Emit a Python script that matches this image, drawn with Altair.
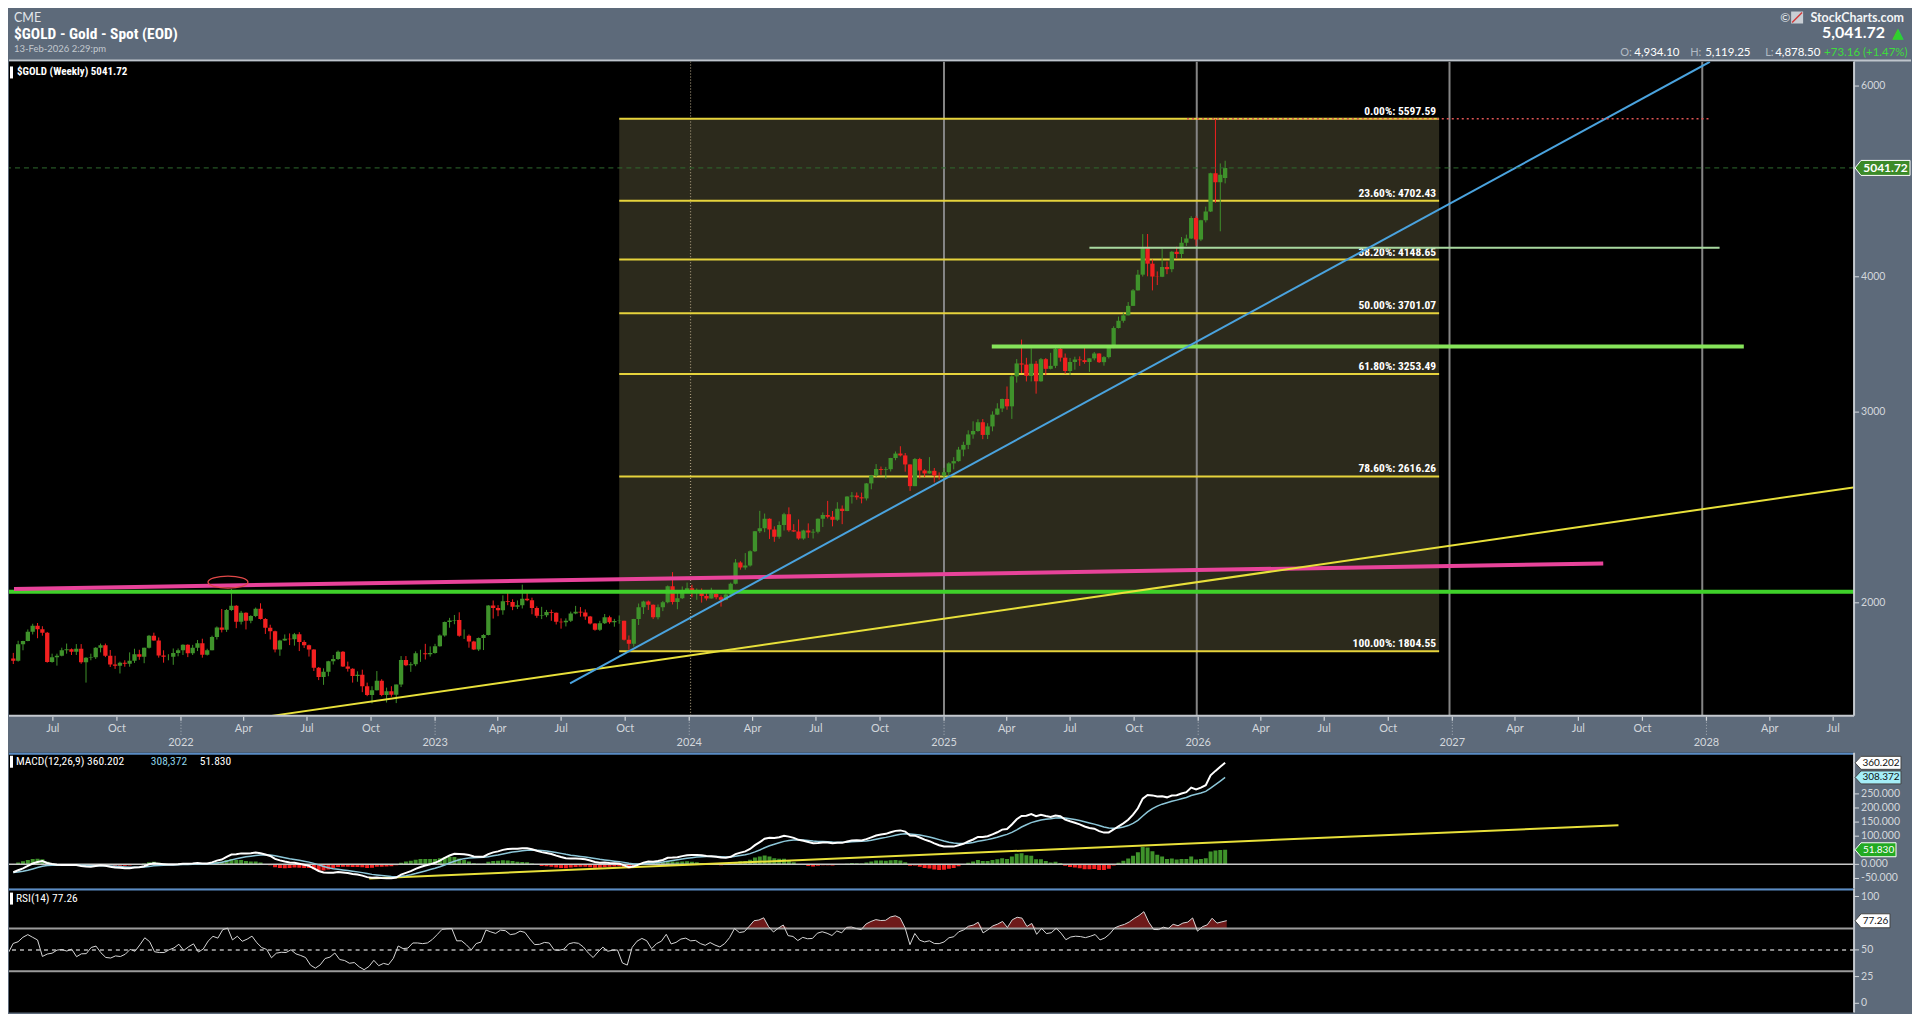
import altair as alt
import pandas as pd
import numpy as np

# ---------------- data (weekly spot gold) ----------------
# closes before the visible window, only used to warm up MACD / RSI
warmup_closes = [1775, 1798, 1810, 1902, 1975, 2035, 1944, 1940, 1964, 1933, 1940, 1950, 1861,
                 1900, 1930, 1899, 1902, 1879, 1951, 1889, 1871, 1788, 1839, 1839, 1881, 1877,
                 1895, 1849, 1828, 1856, 1848, 1814, 1824, 1784, 1734, 1700, 1727, 1745, 1733,
                 1729, 1744, 1777, 1777]

closes = [
    # 2021
    1768, 1831, 1844, 1881, 1905, 1891, 1877, 1764, 1781, 1787, 1808, 1812, 1802, 1814, 1763, 1780,
    1781, 1818, 1827, 1787, 1754, 1750, 1761, 1757, 1768, 1793, 1783, 1818, 1865, 1846, 1788, 1783,
    1783, 1798, 1808, 1829,
    # 2022
    1797, 1818, 1835, 1791, 1808, 1860, 1898, 1889, 1970, 1988, 1921, 1958, 1925, 1945, 1975, 1932,
    1897, 1883, 1811, 1846, 1853, 1851, 1871, 1840, 1827, 1811, 1742, 1708, 1727, 1766, 1775, 1802,
    1747, 1738, 1712, 1716, 1675, 1644, 1661, 1695, 1644, 1657, 1645, 1681, 1771, 1751, 1755, 1797,
    1797, 1793, 1798, 1824,
    # 2023
    1866, 1920, 1926, 1928, 1865, 1865, 1842, 1811, 1856, 1868, 1989, 1978, 1969, 2007, 2004, 1983,
    1990, 2017, 2011, 1978, 1946, 1948, 1961, 1958, 1921, 1919, 1925, 1955, 1962, 1959, 1943, 1914,
    1889, 1915, 1940, 1919, 1924, 1925, 1849, 1833, 1932, 1981, 2006, 1992, 1940, 1981, 2002, 2072,
    2004, 2019, 2053, 2063,
    # 2024
    2045, 2049, 2029, 2018, 2039, 2024, 2013, 2036, 2083, 2179, 2156, 2165, 2232, 2329, 2344, 2391,
    2337, 2301, 2360, 2415, 2334, 2327, 2293, 2333, 2322, 2326, 2391, 2411, 2401, 2386, 2443, 2431,
    2507, 2512, 2503, 2497, 2578, 2622, 2658, 2653, 2657, 2721, 2747, 2736, 2684, 2563, 2715, 2650,
    2633, 2648, 2622, 2621,
    # 2025
    2640, 2690, 2703, 2770, 2798, 2861, 2882, 2936, 2858, 2910, 2984, 3023, 3085, 3037, 3237, 3327,
    3319, 3240, 3325, 3203, 3357, 3289, 3310, 3432, 3368, 3274, 3337, 3355, 3350, 3337, 3363, 3398,
    3336, 3372, 3448, 3587, 3643, 3685, 3760, 3886, 4018, 4251, 4113, 4002, 4000, 4084, 4065, 4218,
    4198, 4300, 4339, 4533,
    # 2026
    4330, 4510, 4595, 4985, 4890, 4968.56, 5041.72]

highs = [
    1798, 1845, 1845, 1890, 1913, 1916, 1903, 1880, 1795, 1795, 1818, 1834, 1815, 1832, 1832, 1782,
    1795, 1820, 1834, 1834, 1809, 1787, 1765, 1770, 1800, 1814, 1810, 1818, 1868, 1877, 1858, 1808,
    1793, 1815, 1815, 1831,
    1831, 1829, 1848, 1853, 1814, 1865, 1902, 1974, 1974, 2060, 1990, 1966, 1960, 1948, 1980, 1998,
    1936, 1909, 1885, 1849, 1870, 1874, 1876, 1879, 1847, 1830, 1812, 1745, 1740, 1768, 1790, 1807,
    1805, 1765, 1740, 1729, 1735, 1688, 1675, 1730, 1700, 1670, 1675, 1681, 1786, 1786, 1763, 1804,
    1810, 1833, 1823, 1833,
    1870, 1922, 1937, 1949, 1960, 1890, 1870, 1845, 1858, 1871, 1990, 2010, 1990, 2032, 2048, 2015,
    2010, 2079, 2048, 2022, 1985, 1983, 1970, 1971, 1959, 1935, 1935, 1963, 1987, 1982, 1972, 1945,
    1915, 1925, 1953, 1946, 1933, 1947, 1925, 1866, 1933, 1997, 2009, 2010, 1993, 1993, 2008, 2075,
    2135, 2048, 2071, 2088,
    2078, 2062, 2062, 2041, 2065, 2044, 2032, 2041, 2088, 2195, 2185, 2223, 2236, 2330, 2432, 2418,
    2393, 2353, 2378, 2422, 2450, 2364, 2388, 2336, 2368, 2340, 2393, 2424, 2484, 2431, 2477, 2460,
    2509, 2531, 2529, 2528, 2580, 2625, 2686, 2672, 2670, 2722, 2759, 2790, 2750, 2685, 2721, 2722,
    2657, 2726, 2664, 2639,
    2665, 2697, 2726, 2786, 2817, 2886, 2942, 2955, 2956, 2930, 3005, 3057, 3087, 3168, 3245, 3358,
    3500, 3367, 3435, 3345, 3366, 3365, 3403, 3446, 3452, 3398, 3366, 3375, 3377, 3439, 3363, 3409,
    3400, 3379, 3453, 3600, 3675, 3707, 3791, 3897, 4059, 4380, 4381, 4150, 4046, 4245, 4132, 4226,
    4264, 4353, 4375, 4550,
    4550, 4515, 4643, 4990, 5597.59, 5090, 5119.25]

lows = [
    1756, 1765, 1808, 1843, 1870, 1855, 1865, 1761, 1761, 1750, 1785, 1795, 1790, 1790, 1757, 1688,
    1770, 1775, 1800, 1782, 1745, 1738, 1721, 1746, 1746, 1760, 1772, 1759, 1815, 1845, 1780, 1761,
    1770, 1753, 1785, 1790,
    1782, 1790, 1805, 1780, 1788, 1808, 1850, 1878, 1880, 1966, 1895, 1910, 1890, 1915, 1940, 1930,
    1872, 1850, 1800, 1787, 1845, 1828, 1826, 1805, 1817, 1784, 1730, 1697, 1680, 1711, 1754, 1771,
    1745, 1728, 1688, 1691, 1654, 1640, 1615, 1660, 1640, 1618, 1638, 1616, 1672, 1748, 1727, 1748,
    1764, 1773, 1784, 1795,
    1822, 1861, 1897, 1911, 1861, 1852, 1818, 1809, 1805, 1809, 1866, 1934, 1944, 1950, 1990, 1969,
    1974, 1976, 2007, 1952, 1937, 1932, 1940, 1925, 1910, 1893, 1902, 1920, 1952, 1942, 1929, 1910,
    1885, 1884, 1912, 1913, 1901, 1913, 1846, 1810, 1822, 1908, 1953, 1970, 1932, 1931, 1965, 1998,
    1993, 1973, 2016, 2042,
    2024, 2013, 2001, 2010, 2018, 2015, 1984, 2011, 2024, 2080, 2146, 2146, 2160, 2228, 2320, 2324,
    2291, 2277, 2292, 2332, 2326, 2325, 2287, 2287, 2296, 2293, 2318, 2350, 2393, 2353, 2380, 2364,
    2430, 2470, 2490, 2471, 2486, 2546, 2614, 2625, 2603, 2644, 2708, 2730, 2643, 2537, 2563, 2605,
    2613, 2632, 2583, 2599,
    2596, 2614, 2656, 2700, 2731, 2773, 2835, 2877, 2832, 2833, 2880, 2981, 3000, 3015, 2957, 3194,
    3260, 3202, 3202, 3120, 3200, 3245, 3285, 3294, 3340, 3255, 3247, 3283, 3310, 3325, 3268, 3349,
    3330, 3311, 3362, 3436, 3584, 3628, 3685, 3759, 3884, 4002, 4004, 3886, 3930, 3997, 4022, 4039,
    4160, 4162, 4271, 4335,
    4274, 4315, 4490, 4590, 4682, 4406, 4878.50]

last_open = 4934.10
last_bar_date = "2026-02-11"

fib_levels = ["0.00%", "23.60%", "38.20%", "50.00%", "61.80%", "78.60%", "100.00%"]
fib_values = [5597.59, 4702.43, 4148.65, 3701.07, 3253.49, 2616.26, 1804.55]
fib_span = ["2023-09-20", "2026-12-17"]

year_lines = ["2025-01-01", "2026-01-01", "2027-01-01", "2028-01-01"]
dotted_year_line = ["2024-01-01"]

blue_dates = ["2023-07-11", "2028-01-12"]
blue_prices = [1685.6, 6318.0]
yellow_dates = ["2022-05-01", "2028-08-15"]
yellow_prices = [1571.0, 2561.0]
magenta_dates = ["2021-04-29", "2027-08-11"]
magenta_prices = [2060.0, 2174.0]
support_level = 2048.0
lime_span = ["2025-03-11", "2028-03-01"]
lime_level = 3449.0
pale_span = ["2025-07-30", "2028-01-26"]
pale_level = 4255.0
peak_span = ["2025-12-18", "2028-01-14"]
peak_level = 5597.59
last_price = 5041.72
circle_date = ["2022-03-04"]
circle_price = [2090.0]

macd_trend_dates = ["2022-09-24", "2027-09-02"]
macd_trend_values = [-50.0, 139.0]
macd_last = [360.202, 308.372, 51.830]
rsi_last = 77.26
rsi_bands = [70, 30]
rsi_mid = [50]

# tick labels
price_ticks = [2000, 3000, 4000, 6000]
price_tick_labels = ["2000", "3000", "4000", "6000"]
macd_ticks = [-50, 0, 100, 150, 200, 250]
macd_tick_labels = ["-50.000", "0.000", "100.000", "150.000", "200.000", "250.000"]
rsi_ticks = [0, 25, 50, 100]
rsi_tick_labels = ["0", "25", "50", "100"]
month_tick_dates = ["2021-07-01", "2021-10-01", "2022-04-01", "2022-07-01", "2022-10-01",
                    "2023-04-01", "2023-07-01", "2023-10-01", "2024-04-01", "2024-07-01",
                    "2024-10-01", "2025-04-01", "2025-07-01", "2025-10-01", "2026-04-01",
                    "2026-07-01", "2026-10-01", "2027-04-01", "2027-07-01", "2027-10-01",
                    "2028-04-01", "2028-07-01"]
month_tick_labels = ["Jul", "Oct", "Apr", "Jul", "Oct", "Apr", "Jul", "Oct", "Apr", "Jul", "Oct",
                     "Apr", "Jul", "Oct", "Apr", "Jul", "Oct", "Apr", "Jul", "Oct", "Apr", "Jul"]
year_tick_dates = ["2022-01-01", "2023-01-01", "2024-01-01", "2025-01-01", "2026-01-01",
                   "2027-01-01", "2028-01-01"]
year_tick_labels = ["2022", "2023", "2024", "2025", "2026", "2027", "2028"]

# ---------------- frames ----------------
N = len(closes)
dates = pd.date_range(end=last_bar_date, periods=N, freq="7D")
opens = [warmup_closes[-1]] + closes[:-1]
opens[-1] = last_open
price = pd.DataFrame({"date": dates, "open": opens, "high": highs, "low": lows, "close": closes})
price["dir"] = np.where(price["close"] >= price["open"], "up", "down")

allc = pd.Series(warmup_closes + closes, dtype=float)
ema12 = allc.ewm(span=12, adjust=False).mean()
ema26 = allc.ewm(span=26, adjust=False).mean()
macd = ema12 - ema26
sig = macd.ewm(span=9, adjust=False).mean()
hist = macd - sig
dlt = allc.diff()
ag = dlt.clip(lower=0).ewm(alpha=1 / 14, adjust=False).mean()
al = (-dlt).clip(lower=0).ewm(alpha=1 / 14, adjust=False).mean()
rsi = 100 - 100 / (1 + ag / al)
ind = pd.DataFrame({"date": dates, "macd": macd.values[-N:], "signal": sig.values[-N:],
                    "hist": hist.values[-N:], "rsi": rsi.values[-N:]})
ind["rsi_top"] = ind["rsi"].clip(lower=70)
ind["hdir"] = np.where(ind["hist"] >= 0, "pos", "neg")

fib_df = pd.DataFrame({"level": fib_levels, "value": fib_values,
                       "start": pd.to_datetime(fib_span[0]), "end": pd.to_datetime(fib_span[1])})
fib_df["label"] = [f"{l}: {v:.2f}" for l, v in zip(fib_levels, fib_values)]
box_df = pd.DataFrame({"start": [pd.to_datetime(fib_span[0])], "end": [pd.to_datetime(fib_span[1])],
                       "top": [max(fib_values)], "bottom": [min(fib_values)]})


def seg(ds, vs):
    return pd.DataFrame({"date": pd.to_datetime(ds), "v": vs})


def span(sp, lvl):
    return pd.DataFrame({"start": [pd.to_datetime(sp[0])], "end": [pd.to_datetime(sp[1])], "v": [lvl]})


# ---------------- layout / style ----------------
W = 1847
H_HDR, H_MAIN, H_STRIP, H_MACD, H_RSI = 53, 655, 37, 136, 124
BG = "#5d6a7a"
CF = "'Liberation Sans Narrow', 'Roboto Condensed', 'DejaVu Sans Condensed', Roboto, sans-serif"
HF = "Lato, 'Open Sans', sans-serif"
AX = "#d3d7dc"
DOM = "#c4c9cf"

xs = alt.Scale(domain=[alt.DateTime(year=2021, month=4, date=29),
                       alt.DateTime(year=2028, month=7, date=31)], nice=False)
ys = alt.Scale(type="log", domain=[1573, 6322], nice=False)
ms = alt.Scale(domain=[-86, 396], nice=False, zero=False)
rs = alt.Scale(domain=[-8.6, 107.4], nice=False, zero=False)
black = alt.ViewBackground(fill="#000000", strokeWidth=0)
clear = alt.ViewBackground(strokeWidth=0)


def XT(field="date"):
    return alt.X(f"{field}:T", scale=xs, axis=None, title=None)


one = pd.DataFrame({"a": [0]})


def txt(t, x, y, size, color, weight="normal", align="left", font=CF, base="middle"):
    return alt.Chart(one).mark_text(text=t, fontSize=size, color=color, fontWeight=weight,
                                    align=align, baseline=base, font=font).encode(
        x=alt.value(x), y=alt.value(y))


def right_axis(values, labels, scale, height):
    d = pd.DataFrame({"v": values, "lab": labels})
    dom = alt.Chart(one).mark_rule(color=DOM, strokeWidth=2).encode(
        x=alt.value(W), y=alt.value(0), y2=alt.value(height))
    ticks = alt.Chart(d).mark_rule(color=AX, strokeWidth=1).encode(
        x=alt.value(W), x2=alt.value(W + 5), y=alt.Y("v:Q", scale=scale, axis=None))
    labs = alt.Chart(d).mark_text(align="left", baseline="middle", color=AX, font=HF,
                                  fontSize=10.5).encode(
        x=alt.value(W + 7), y=alt.Y("v:Q", scale=scale, axis=None), text="lab:N")
    return [dom, ticks, labs]


def tag_path(w, h, tip):
    hy = h / w
    bx = -1 + 2 * tip / w
    return f"M-1,0L{bx:.3f},{-hy:.3f}L1,{-hy:.3f}L1,{hy:.3f}L{bx:.3f},{hy:.3f}Z"


def tag(value, scale, label, fill, tcolor, w, h=14, weight="normal", stroke="#ffffff", size=10.5):
    d = pd.DataFrame({"v": [value]})
    cx = W + 1 + w / 2
    shape = alt.Chart(d).mark_point(shape=tag_path(w, h, 6), size=w * w, filled=True, fill=fill,
                                    stroke=stroke, strokeWidth=1, opacity=1, clip=False).encode(
        x=alt.value(cx), y=alt.Y("v:Q", scale=scale, axis=None))
    t = alt.Chart(d).mark_text(text=label, font=HF, fontSize=size, color=tcolor, fontWeight=weight,
                               align="center", baseline="middle", clip=False).encode(
        x=alt.value(cx + 3), y=alt.Y("v:Q", scale=scale, axis=None))
    return [shape, t]


# ---------------- header ----------------
header = alt.layer(
    txt("CME", 5, 9, 12.5, "#e2e6ea", font=HF),
    txt("$GOLD - Gold - Spot (EOD)", 5, 26, 15.5, "#ffffff", "bold", font=CF),
    txt("13-Feb-2026 2:29:pm", 5, 41, 9.5, "#c3c9cf", font=HF),
    txt("©", 1773, 9, 12, "#e8ecef", font=HF),
    alt.Chart(one).mark_rect(color="#c9ced4").encode(
        x=alt.value(1784), x2=alt.value(1796), y=alt.value(3), y2=alt.value(15)),
    alt.Chart(one).mark_rule(color="#d23a3a", strokeWidth=1.5).encode(
        x=alt.value(1785), x2=alt.value(1795), y=alt.value(14), y2=alt.value(4)),
    txt("StockCharts.com", 1897, 9, 12.5, "#f2f4f6", "bold", "right", font=HF),
    txt("5,041.72", 1878, 25, 16, "#ffffff", "bold", "right", font=HF),
    txt("▲", 1891, 25, 15, "#2fd02f", "normal", "center", font="DejaVu Sans"),
    txt("O:", 1613, 45, 11, "#b3bbc4", font=HF),
    txt("4,934.10", 1627, 45, 11.5, "#ffffff", font=HF),
    txt("H:", 1683, 45, 11, "#b3bbc4", font=HF),
    txt("5,119.25", 1698, 45, 11.5, "#ffffff", font=HF),
    txt("L:", 1758, 45, 11, "#b3bbc4", font=HF),
    txt("4,878.50", 1768, 45, 11.5, "#ffffff", font=HF),
    txt("+73.16 (+1.47%)", 1817, 45, 11.5, "#3ddc3d", font=HF),
    alt.Chart(one).mark_rule(color="#bfc5cc", strokeWidth=2).encode(
        x=alt.value(0), x2=alt.value(W + 57), y=alt.value(H_HDR - 1)),
).properties(width=W, height=H_HDR, view=clear)

# ---------------- main price panel ----------------
cscale = alt.Scale(domain=["up", "down"], range=["#3f922b", "#f22020"])

box = alt.Chart(box_df).mark_rect(color="#2c2a1c", clip=True).encode(
    x=XT("start"), x2="end:T", y=alt.Y("top:Q", scale=ys, axis=None), y2="bottom:Q")
vlines = alt.Chart(pd.DataFrame({"date": pd.to_datetime(year_lines)})).mark_rule(
    color="#858585", strokeWidth=2, clip=True).encode(x=XT())
vdot = alt.Chart(pd.DataFrame({"date": pd.to_datetime(dotted_year_line)})).mark_rule(
    color="#a89a7c", strokeWidth=1.2, strokeDash=[1, 2], clip=True).encode(x=XT())
fib_rules = alt.Chart(fib_df).mark_rule(color="#e6d33c", strokeWidth=2, clip=True).encode(
    x=XT("start"), x2="end:T", y=alt.Y("value:Q", scale=ys, axis=None))
fib_text = alt.Chart(fib_df).mark_text(align="right", baseline="alphabetic", dx=-3, dy=-4,
                                       color="#ffffff", fontWeight="bold", font=CF,
                                       fontSize=11.5).encode(
    x=XT("end"), y=alt.Y("value:Q", scale=ys, axis=None), text="label:N")

wicks = alt.Chart(price).mark_rule(strokeWidth=1, clip=True).encode(
    x=XT(), y=alt.Y("low:Q", scale=ys, axis=None), y2="high:Q",
    color=alt.Color("dir:N", scale=cscale, legend=None))
bodies = alt.Chart(price).mark_bar(size=4.3, clip=True).encode(
    x=XT(), y=alt.Y("open:Q", scale=ys, axis=None), y2="close:Q",
    color=alt.Color("dir:N", scale=cscale, legend=None))

support = alt.Chart(pd.DataFrame({"v": [support_level]})).mark_rule(
    color="#3fd02a", strokeWidth=4, clip=True).encode(y=alt.Y("v:Q", scale=ys, axis=None))
magenta = alt.Chart(seg(magenta_dates, magenta_prices)).mark_line(
    color="#e8439a", strokeWidth=4, clip=True).encode(x=XT(), y=alt.Y("v:Q", scale=ys, axis=None))
lime = alt.Chart(span(lime_span, lime_level)).mark_rule(
    color="#86e45a", strokeWidth=4, clip=True).encode(
    x=XT("start"), x2="end:T", y=alt.Y("v:Q", scale=ys, axis=None))
pale = alt.Chart(span(pale_span, pale_level)).mark_rule(
    color="#a9d9a0", strokeWidth=2, clip=True).encode(
    x=XT("start"), x2="end:T", y=alt.Y("v:Q", scale=ys, axis=None))
yellow = alt.Chart(seg(yellow_dates, yellow_prices)).mark_line(
    color="#e8e03a", strokeWidth=2, clip=True).encode(x=XT(), y=alt.Y("v:Q", scale=ys, axis=None))
blue = alt.Chart(seg(blue_dates, blue_prices)).mark_line(
    color="#4aa3de", strokeWidth=2, clip=True).encode(x=XT(), y=alt.Y("v:Q", scale=ys, axis=None))
peak = alt.Chart(span(peak_span, peak_level)).mark_rule(
    color="#e05555", strokeWidth=1.5, strokeDash=[2, 3], clip=True).encode(
    x=XT("start"), x2="end:T", y=alt.Y("v:Q", scale=ys, axis=None))
lastline = alt.Chart(pd.DataFrame({"v": [last_price]})).mark_rule(
    color="#2f6a2f", strokeWidth=1, strokeDash=[5, 4], clip=True).encode(
    y=alt.Y("v:Q", scale=ys, axis=None))
ellipse = alt.Chart(seg(circle_date, circle_price)).mark_point(
    shape="M-1,0C-1,-0.166,-0.552,-0.3,0,-0.3C0.552,-0.3,1,-0.166,1,0C1,0.166,0.552,0.3,0,0.3C-0.552,0.3,-1,0.166,-1,0Z",
    size=1600, filled=False, stroke="#e04848", strokeWidth=1.3, opacity=1, clip=True).encode(
    x=XT(), y=alt.Y("v:Q", scale=ys, axis=None))

main_bar = alt.Chart(one).mark_rect(color="#ffffff").encode(
    x=alt.value(1), x2=alt.value(4), y=alt.value(5), y2=alt.value(17))
main_label = txt("$GOLD (Weekly) 5041.72", 8, 11, 11, "#ffffff", "bold")
bottom_dom = alt.Chart(one).mark_rule(color=DOM, strokeWidth=2).encode(
    x=alt.value(0), x2=alt.value(W), y=alt.value(H_MAIN))

main = alt.layer(
    box, vlines, vdot, fib_rules, fib_text, wicks, bodies,
    support, magenta, lime, pale, yellow, blue, peak, lastline, ellipse,
    main_bar, main_label, bottom_dom,
    *right_axis(price_ticks, price_tick_labels, ys, H_MAIN),
    *tag(last_price, ys, "5041.72", "#3b8a28", "#ffffff", 55, 15, "bold", size=12),
).properties(width=W, height=H_MAIN, view=black)

# ---------------- date axis strip ----------------
mdf = pd.DataFrame({"date": pd.to_datetime(month_tick_dates), "lab": month_tick_labels})
ydf = pd.DataFrame({"date": pd.to_datetime(year_tick_dates), "lab": year_tick_labels})
strip = alt.layer(
    alt.Chart(mdf).mark_rule(color=AX, strokeWidth=1.2).encode(
        x=XT(), y=alt.value(1), y2=alt.value(5)),
    alt.Chart(ydf).mark_rule(color=AX, strokeWidth=1.2).encode(
        x=XT(), y=alt.value(1), y2=alt.value(5)),
    alt.Chart(ydf).mark_rule(color="#aab1b9", strokeWidth=1, strokeDash=[1, 2]).encode(
        x=XT(), y=alt.value(6), y2=alt.value(20)),
    alt.Chart(mdf).mark_text(color=AX, font=HF, fontSize=11, baseline="middle").encode(
        x=XT(), y=alt.value(13), text="lab:N"),
    alt.Chart(ydf).mark_text(color=AX, font=HF, fontSize=11, baseline="middle").encode(
        x=XT(), y=alt.value(27), text="lab:N"),
).properties(width=W, height=H_STRIP, view=clear)

# ---------------- MACD panel ----------------
hscale = alt.Scale(domain=["pos", "neg"], range=["#1d9e1d", "#e01a1a"])
macd_border = alt.Chart(one).mark_rule(color="#5a8cc4", strokeWidth=2).encode(
    x=alt.value(0), x2=alt.value(W), y=alt.value(1))
hbars = alt.Chart(ind).mark_bar(size=4, clip=True).encode(
    x=XT(), y=alt.Y("hist:Q", scale=ms, axis=None), y2=alt.datum(0),
    color=alt.Color("hdir:N", scale=hscale, legend=None))
zero = alt.Chart(pd.DataFrame({"v": [0]})).mark_rule(color="#c8c8c8", strokeWidth=1.5).encode(
    y=alt.Y("v:Q", scale=ms, axis=None))
mtrend = alt.Chart(seg(macd_trend_dates, macd_trend_values)).mark_line(
    color="#e8e03a", strokeWidth=2, clip=True).encode(x=XT(), y=alt.Y("v:Q", scale=ms, axis=None))
sline = alt.Chart(ind).mark_line(color="#8cc6d8", strokeWidth=1.5, clip=True).encode(
    x=XT(), y=alt.Y("signal:Q", scale=ms, axis=None))
mline = alt.Chart(ind).mark_line(color="#ffffff", strokeWidth=2, clip=True).encode(
    x=XT(), y=alt.Y("macd:Q", scale=ms, axis=None))
macd_bar = alt.Chart(one).mark_rect(color="#ffffff").encode(
    x=alt.value(1), x2=alt.value(4), y=alt.value(3), y2=alt.value(15))

macd_chart = alt.layer(
    hbars, zero, mtrend, sline, mline, macd_border, macd_bar,
    txt("MACD(12,26,9) 360.202", 7, 9, 11.5, "#ffffff"),
    txt("308,372", 142, 9, 11.5, "#8fd3e8"),
    txt("51.830", 191, 9, 11.5, "#ffffff"),
    *right_axis(macd_ticks, macd_tick_labels, ms, H_MACD),
    *tag(macd_last[0], ms, "360.202", "#ffffff", "#111111", 46, 13, stroke="#444444", size=10),
    *tag(macd_last[1], ms, "308.372", "#a4eef8", "#111111", 46, 13, stroke="#444444", size=10),
    *tag(macd_last[2], ms, "51.830", "#22aa22", "#ffffff", 41, 14, size=10),
).properties(width=W, height=H_MACD, view=black)

# ---------------- RSI panel ----------------
rsi_border = alt.Chart(one).mark_rule(color="#5a8cc4", strokeWidth=2).encode(
    x=alt.value(0), x2=alt.value(W), y=alt.value(1))
rarea = alt.Chart(ind).mark_area(color="#6e1a1a", clip=True).encode(
    x=XT(), y=alt.Y("rsi_top:Q", scale=rs, axis=None), y2=alt.datum(70))
bands = alt.Chart(pd.DataFrame({"v": rsi_bands})).mark_rule(color="#9b9b9b", strokeWidth=2).encode(
    y=alt.Y("v:Q", scale=rs, axis=None))
mid = alt.Chart(pd.DataFrame({"v": rsi_mid})).mark_rule(
    color="#b5b5b5", strokeWidth=1.5, strokeDash=[4, 4]).encode(y=alt.Y("v:Q", scale=rs, axis=None))
rline = alt.Chart(ind).mark_line(color="#d6d6d6", strokeWidth=1, clip=True).encode(
    x=XT(), y=alt.Y("rsi:Q", scale=rs, axis=None))
rsi_bar = alt.Chart(one).mark_rect(color="#ffffff").encode(
    x=alt.value(1), x2=alt.value(4), y=alt.value(4), y2=alt.value(16))

rsi_chart = alt.layer(
    rarea, bands, mid, rline, rsi_border, rsi_bar,
    txt("RSI(14) 77.26", 7, 10, 11.5, "#ffffff"),
    *right_axis(rsi_ticks, rsi_tick_labels, rs, H_RSI),
    *tag(rsi_last, rs, "77.26", "#ffffff", "#111111", 35, 14, stroke="#444444", size=10),
).properties(width=W, height=H_RSI, view=black)

chart = alt.vconcat(header, main, strip, macd_chart, rsi_chart, spacing=0, bounds="flush").properties(
    background=BG, padding=0).configure_view(strokeWidth=0)

chart.save("out.html", embed_options={"renderer": "svg", "actions": False})
